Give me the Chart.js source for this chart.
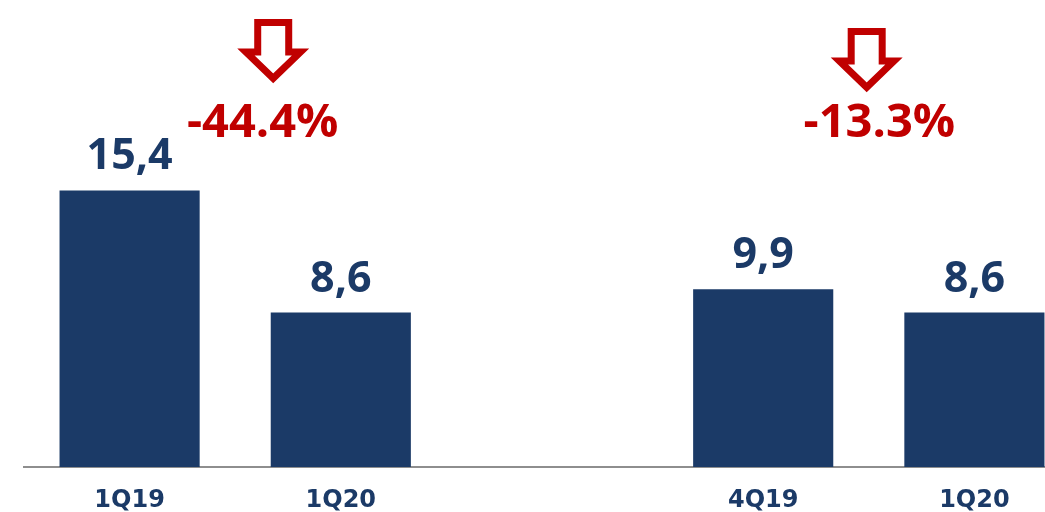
<!DOCTYPE html>
<html>
<head>
<meta charset="utf-8">
<script src="https://cdn.jsdelivr.net/npm/chart.js@4"></script>
<style>
  html, body { margin: 0; padding: 0; background: #fff; overflow: hidden; }
  #wrap { width: 1080px; height: 512px; }
</style>
</head>
<body>
<div id="wrap"><canvas id="chart"></canvas></div>
<script>
(function () {
    'use strict';

    // Quarters; the empty slot separates the two comparisons
    var quarters = ['1Q19', '1Q20', '', '4Q19', '1Q20'];
    var netIncome = [15.4, 8.6, null, 9.9, 8.6];

    var changeLabels = ['-44.4%', '-13.3%'];

    var BLUE = '#1b3a67';
    var RED = '#c00000';

    // Arrow + percentage placement, in category units
    var changeMarks = [
        { arrowAt: 0.68, textAt: 0.63, arrowTop: 19 },
        { arrowAt: 3.49, textAt: 3.55, arrowTop: 28 }
    ];

    function fmt(v) {
        return v.toFixed(1).replace('.', ',');
    }

    function catPixel(scale, pos) {
        var p0 = scale.getPixelForValue(0);
        var p1 = scale.getPixelForValue(1);
        return p0 + (p1 - p0) * pos;
    }

    // Value labels above each bar
    var barLabels = {
        id: 'barLabels',
        afterDatasetsDraw: function (chart) {
            var ctx = chart.ctx;
            var meta = chart.getDatasetMeta(0);
            ctx.save();
            ctx.fillStyle = BLUE;
            ctx.font = 'bold 43px "Open Sans"';
            ctx.textAlign = 'center';
            ctx.textBaseline = 'alphabetic';
            meta.data.forEach(function (bar, i) {
                var v = netIncome[i];
                if (v === null) return;
                ctx.fillText(fmt(v), bar.x, bar.y - 21);
            });
            ctx.restore();
        }
    };

    // Outlined down arrow, outer size ~70 x 67
    function drawArrow(ctx, cx, top) {
        var lw = 7, i = lw / 2;
        var sx = 19 - i, hx = 35 - i * 2.2;
        var headY = 33, tip = 67 - i * 2.2;
        ctx.beginPath();
        ctx.moveTo(cx - sx, top + i);
        ctx.lineTo(cx + sx, top + i);
        ctx.lineTo(cx + sx, top + headY);
        ctx.lineTo(cx + hx, top + headY);
        ctx.lineTo(cx, top + tip);
        ctx.lineTo(cx - hx, top + headY);
        ctx.lineTo(cx - sx, top + headY);
        ctx.closePath();
        ctx.fillStyle = '#fff';
        ctx.fill();
        ctx.lineWidth = lw;
        ctx.lineJoin = 'miter';
        ctx.miterLimit = 10;
        ctx.strokeStyle = RED;
        ctx.stroke();
    }

    // Down arrows with percentage change
    var changeArrows = {
        id: 'changeArrows',
        afterDraw: function (chart) {
            var ctx = chart.ctx;
            var x = chart.scales.x;
            ctx.save();
            changeMarks.forEach(function (m, k) {
                drawArrow(ctx, catPixel(x, m.arrowAt), m.arrowTop);
                ctx.fillStyle = RED;
                ctx.font = 'bold 47px "Open Sans"';
                ctx.textAlign = 'center';
                ctx.textBaseline = 'alphabetic';
                ctx.fillText(changeLabels[k], catPixel(x, m.textAt), 137);
            });
            ctx.restore();
        }
    };

    new Chart(document.getElementById('chart'), {
        type: 'bar',
        data: {
            labels: quarters,
            datasets: [{
                data: netIncome,
                backgroundColor: BLUE,
                borderWidth: 0,
                categoryPercentage: 1,
                barPercentage: 0.6635
            }]
        },
        options: {
            responsive: true,
            maintainAspectRatio: false,
            animation: false,
            layout: { padding: { left: 24, right: 0, top: 0, bottom: 0 } },
            plugins: {
                legend: { display: false },
                tooltip: { enabled: false }
            },
            scales: {
                x: {
                    grid: { display: false },
                    border: { color: '#8e8e8e', width: 2 },
                    ticks: {
                        color: BLUE,
                        font: { family: '"DejaVu Sans"', weight: 'bold', size: 24, lineHeight: 1 },
                        padding: 14
                    },
                    afterFit: function (s) { s.height = 45; }
                },
                y: {
                    display: false,
                    min: 0,
                    max: 26
                }
            }
        },
        plugins: [barLabels, changeArrows]
    });
})();
</script>
</body>
</html>
